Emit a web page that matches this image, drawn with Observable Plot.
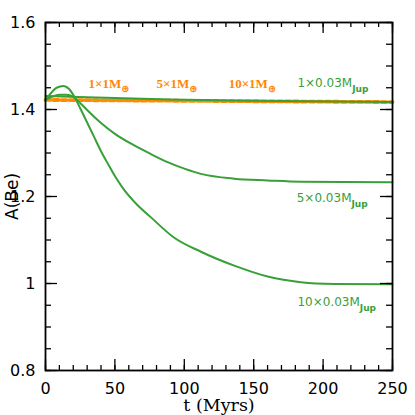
<!DOCTYPE html>
<html>
<head>
<meta charset="utf-8">
<script src="https://cdn.jsdelivr.net/npm/d3@7"></script>
<script src="https://cdn.jsdelivr.net/npm/@observablehq/plot@0.6"></script>
<style>
  html, body { margin: 0; padding: 0; background: #fff; }
</style>
</head>
<body>
<div id="chart"></div>
<script>
// ---- data ----
const t10 = [0, 4, 8, 13, 17, 21, 25, 30, 35, 40, 45, 50, 56, 66, 76, 92, 112, 136, 160, 184, 208, 250];
const a10 = [1.421, 1.438, 1.450, 1.454, 1.447, 1.428, 1.403, 1.370, 1.337, 1.304, 1.275, 1.247, 1.218, 1.181, 1.152, 1.107, 1.073, 1.041, 1.016, 1.003, 0.999, 0.998];

const t5 = [0, 5, 10, 15, 20, 25, 30, 40, 50, 63, 75, 88, 100, 112, 136, 160, 184, 250];
const a5 = [1.422, 1.430, 1.434, 1.434, 1.429, 1.415, 1.399, 1.369, 1.344, 1.319, 1.299, 1.279, 1.264, 1.252, 1.241, 1.237, 1.234, 1.233];

const t1 = [0, 30, 90, 150, 250];
const a1 = [1.431, 1.428, 1.423, 1.420, 1.417];

const tEarth = [0, 100, 250];
const aEarth = [1.422, 1.420, 1.417];

const orangeLabels = ["1×1M_⊕", "5×1M_⊕", "10×1M_⊕"];
const orangeLabelT = [31, 80, 132];
const orangeLabelA = [1.450, 1.450, 1.450];

const greenLabels = ["1×0.03M_Jup", "5×0.03M_Jup", "10×0.03M_Jup"];
const greenLabelT = [181.5, 181, 181.5];
const greenLabelA = [1.451, 1.187, 0.949];

const xMajor = [0, 50, 100, 150, 200, 250];
const xTickLabels = ["0", "50", "100", "150", "200", "250"];
const xMinor = d3.range(0, 251, 10);
const yMajor = [0.8, 1.0, 1.2, 1.4, 1.6];
const yTickLabels = ["0.8", "1", "1.2", "1.4", "1.6"];
const yMinor = d3.range(0.8, 1.6001, 0.05);

// ---- layout ----
const W = 415, H = 415;
const mL = 45, mR = 23, mT = 22, mB = 45;
const pw = W - mL - mR, ph = H - mT - mB;
const green = "#38a038", orange = "#ff8c00", orangeText = "#ff8800";

const mk = (T, A) => T.map((t, i) => ({t, a: A[i]}));
const lbl = (L, T, A) => L.map((s, i) => ({s, t: T[i], a: A[i]}));

const tickW = 1.3;
const chart = Plot.plot({
  width: W, height: H,
  marginLeft: mL, marginRight: mR, marginTop: mT, marginBottom: mB,
  x: {domain: [0, 250], axis: null},
  y: {domain: [0.8, 1.6], axis: null},
  style: {fontFamily: "DejaVu Sans", fontSize: "16px", background: "#fff", color: "#000"},
  marks: [
    // data lines
    Plot.line(mk(tEarth, aEarth), {x: "t", y: "a", stroke: orange, strokeWidth: 3.8, strokeDasharray: "5,3"}),
    Plot.line(mk(t1, a1), {x: "t", y: "a", stroke: green, strokeWidth: 2, curve: "monotone-x"}),
    Plot.line(mk(t5, a5), {x: "t", y: "a", stroke: green, strokeWidth: 2, curve: "monotone-x"}),
    Plot.line(mk(t10, a10), {x: "t", y: "a", stroke: green, strokeWidth: 2, curve: "monotone-x"}),
    // inward ticks, all four sides
    Plot.ruleX(xMajor, {x: d => d, insetTop: ph - 11, strokeWidth: tickW}),
    Plot.ruleX(xMinor, {x: d => d, insetTop: ph - 5, strokeWidth: tickW}),
    Plot.ruleX(xMajor, {x: d => d, insetBottom: ph - 11, strokeWidth: tickW}),
    Plot.ruleX(xMinor, {x: d => d, insetBottom: ph - 5, strokeWidth: tickW}),
    Plot.ruleY(yMajor, {y: d => d, insetRight: pw - 12, strokeWidth: tickW}),
    Plot.ruleY(yMinor, {y: d => d, insetRight: pw - 6, strokeWidth: tickW}),
    Plot.ruleY(yMajor, {y: d => d, insetLeft: pw - 12, strokeWidth: tickW}),
    Plot.ruleY(yMinor, {y: d => d, insetLeft: pw - 6, strokeWidth: tickW}),
    Plot.frame({stroke: "#000", strokeWidth: 1.8}),
    // tick labels
    Plot.axisX(xMajor, {anchor: "bottom", label: null, tickSize: 0, tickPadding: 12, tickFormat: (d, i) => xTickLabels[i], fontSize: 16, fontFamily: "DejaVu Sans"}),
    Plot.axisY(yMajor, {anchor: "left", label: null, tickSize: 0, tickPadding: 10, tickFormat: (d, i) => yTickLabels[i], fontSize: 16, fontFamily: "DejaVu Sans"}),
    // axis titles
    Plot.text(["t (Myrs)"], {frameAnchor: "bottom", dy: 35, lineAnchor: "middle", textAnchor: "middle", fontSize: 17.5, fontFamily: "DejaVu Serif", fill: "#000"}),
    Plot.text(["A(Be)"], {frameAnchor: "left", dx: -33, rotate: -90, lineAnchor: "middle", textAnchor: "middle", fontSize: 17, fontFamily: "DejaVu Sans", fill: "#000"}),
    // annotations
    Plot.text(lbl(orangeLabels, orangeLabelT, orangeLabelA), {x: "t", y: "a", text: "s", fill: orangeText, textAnchor: "start", lineAnchor: "bottom", fontSize: 13, fontWeight: "bold", fontFamily: "Liberation Serif"}),
    Plot.text(lbl(greenLabels, greenLabelT, greenLabelA), {x: "t", y: "a", text: "s", fill: green, textAnchor: "start", lineAnchor: "bottom", fontSize: 12, fontFamily: "DejaVu Sans"})
  ]
});

// turn "X_sub" into text with a subscript tspan
d3.select(chart).selectAll("text").each(function() {
  const el = this;
  const s = el.textContent;
  if (!s.includes("_")) return;
  const [main, sub] = s.split("_");
  el.textContent = main;
  const ts = document.createElementNS("http://www.w3.org/2000/svg", "tspan");
  ts.setAttribute("dy", sub === "Jup" ? "5" : "4");
  if (sub === "Jup") {
    ts.setAttribute("font-size", "9");
    ts.setAttribute("font-weight", "bold");
  } else {
    ts.setAttribute("font-size", "10");
    ts.setAttribute("font-weight", "bold");
    ts.setAttribute("font-family", "DejaVu Sans");
  }
  ts.textContent = sub;
  el.appendChild(ts);
});

document.getElementById("chart").appendChild(chart);
</script>
</body>
</html>
